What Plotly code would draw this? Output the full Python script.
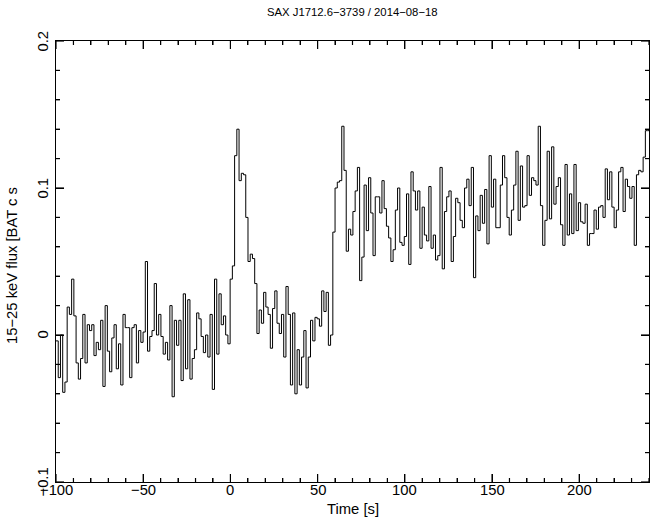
import plotly.graph_objects as go

# ---- data: Swift/BAT 15-25 keV light curve, 1.28 s bins starting at t = -100 s ----
bin_start = -100.0
bin_width = 1.28

flux_m100_m50 = [-0.004, -0.029, 0.000, -0.039, -0.032, 0.019, 0.014, 0.038, 0.013, -0.019,
                 -0.030, -0.016, 0.014, -0.019, 0.007, 0.003, 0.007, -0.014, -0.005, -0.010,
                 0.010, -0.035, 0.020, -0.011, -0.025, -0.002, 0.007, -0.023, -0.006, -0.034,
                 0.014, 0.005, 0.005, -0.029, 0.005, 0.007, -0.019, 0.003, -0.005]
flux_m50_0 = [0.002, 0.050, -0.011, -0.001, 0.003, 0.035, 0.000, 0.014, -0.001, -0.013,
              -0.005, -0.017, 0.020, -0.042, 0.010, -0.007, 0.010, -0.031, 0.028, -0.023,
              0.024, -0.030, -0.016, -0.010, 0.015, 0.011, -0.001, -0.012, 0.000, -0.015,
              0.014, -0.037, 0.038, -0.013, 0.028, 0.007, 0.013, 0.000, -0.006]
flux_0_50 = [0.038, 0.047, 0.122, 0.140, 0.105, 0.110, 0.109, 0.080, 0.050, 0.055,
             0.052, 0.035, 0.001, 0.017, 0.008, 0.029, 0.019, 0.014, -0.009, 0.018,
             0.030, 0.008, 0.001, 0.014, -0.015, 0.033, 0.014, -0.034, 0.015, -0.040,
             -0.010, -0.034, -0.015, 0.003, -0.036, -0.015, 0.010, -0.004, 0.012]
flux_50_100 = [0.011, 0.006, 0.030, 0.016, 0.029, -0.007, 0.000, 0.070, 0.100, 0.104,
               0.105, 0.142, 0.112, 0.057, 0.072, 0.068, 0.084, 0.098, 0.114, 0.037,
               0.053, 0.102, 0.071, 0.107, 0.083, 0.054, 0.094, 0.094, 0.083, 0.105,
               0.086, 0.074, 0.066, 0.050, 0.058, 0.085, 0.100, 0.063, 0.061]
flux_100_150 = [0.067, 0.096, 0.048, 0.111, 0.098, 0.085, 0.098, 0.059, 0.087, 0.068,
                0.064, 0.101, 0.059, 0.068, 0.051, 0.054, 0.114, 0.045, 0.084, 0.094,
                0.098, 0.050, 0.067, 0.093, 0.090, 0.078, 0.073, 0.100, 0.106, 0.088,
                0.114, 0.039, 0.081, 0.071, 0.095, 0.076, 0.099, 0.062, 0.122]
flux_150_200 = [0.087, 0.106, 0.073, 0.073, 0.102, 0.122, 0.107, 0.080, 0.068, 0.085,
                0.102, 0.125, 0.078, 0.115, 0.087, 0.088, 0.122, 0.095, 0.107, 0.105,
                0.102, 0.142, 0.088, 0.061, 0.078, 0.125, 0.079, 0.128, 0.089, 0.101,
                0.107, 0.075, 0.061, 0.116, 0.068, 0.096, 0.069, 0.116, 0.071]
flux_200_240 = [0.090, 0.077, 0.076, 0.089, 0.061, 0.069, 0.069, 0.085, 0.072, 0.087,
                0.088, 0.080, 0.113, 0.092, 0.111, 0.087, 0.073, 0.085, 0.111, 0.114,
                0.084, 0.106, 0.101, 0.093, 0.101, 0.061, 0.109, 0.112, 0.111, 0.121,
                0.139, 0.139]

x_ticks = [-100, -50, 0, 50, 100, 150, 200]
x_tick_labels = ["\u2212100", "\u221250", "0", "50", "100", "150", "200"]
y_ticks = [-0.1, 0, 0.1, 0.2]
y_tick_labels = ["\u22120.1", "0", "0.1", "0.2"]
x_minor_step = 10
y_minor_step = 0.02
x_range = [-100, 240]
y_range = [-0.1, 0.2]

title_text = "SAX J1712.6\u22123739 / 2014\u221208\u221218"
x_title = "Time [s]"
y_title = "15\u221225 keV flux [BAT c s"

# ---- build step curve ----
flux = (flux_m100_m50 + flux_m50_0 + flux_0_50 + flux_50_100 +
        flux_100_150 + flux_150_200 + flux_200_240)
edges = [bin_start + i * bin_width for i in range(len(flux) + 1)]
ys = flux + [flux[-1]]

font = "Liberation Sans, Arial, Helvetica, sans-serif"
W, H = 650, 526
L, R, T, B = 56, 1, 41, 44
pw, ph = W - L - R, H - T - B
maj_len, min_len = 8, 4
px_per_x = pw / (x_range[1] - x_range[0])
px_per_y = ph / (y_range[1] - y_range[0])
lab_size = 14.8


def frange(a, b, step):
    n = int(round((b - a) / step))
    return [a + k * step for k in range(n + 1)]


x_minor = [v for v in frange(x_range[0], x_range[1], x_minor_step)
           if all(abs(v - m) > 1e-9 for m in x_ticks)]
y_minor = [v for v in frange(y_range[0], y_range[1], y_minor_step)
           if all(abs(v - m) > 1e-9 for m in y_ticks)]

# inside tick marks on all four sides, drawn in data coordinates
tx, ty = [], []
for vals, ln in ((x_ticks, maj_len), (x_minor, min_len)):
    d = ln / px_per_y
    for v in vals:
        tx += [v, v, None, v, v, None]
        ty += [y_range[0], y_range[0] + d, None, y_range[1], y_range[1] - d, None]
for vals, ln in ((y_ticks, maj_len), (y_minor, min_len)):
    d = ln / px_per_x
    for v in vals:
        tx += [x_range[0], x_range[0] + d, None, x_range[1], x_range[1] - d, None]
        ty += [v, v, None, v, v, None]

fig = go.Figure()
fig.add_trace(go.Scatter(x=edges, y=ys, mode="lines", line_shape="hv",
                         line=dict(color="black", width=1), hoverinfo="skip"))
fig.add_trace(go.Scatter(x=tx, y=ty, mode="lines", connectgaps=False,
                         line=dict(color="black", width=1.2, simplify=False), hoverinfo="skip"))

annotations = [
    dict(text=title_text, xref="paper", yref="paper",
         x=0.5, y=1 + (T - 12) / ph, xanchor="center", yanchor="middle",
         showarrow=False, font=dict(size=11.3)),
    dict(text=x_title, xref="paper", yref="paper",
         x=0.5, y=-(508.5 - (H - B)) / ph, xanchor="center", yanchor="middle",
         showarrow=False, font=dict(size=lab_size)),
    dict(text=y_title, xref="paper", yref="paper",
         x=-(L - 12) / pw, y=(H - B - 266) / ph, xanchor="center", yanchor="middle",
         textangle=-90, showarrow=False, font=dict(size=lab_size)),
]
# tick labels placed through the axis scales
for v, s in zip(x_ticks, x_tick_labels):
    annotations.append(dict(text=s, xref="x", yref="paper", x=v, y=-(490 - (H - B)) / ph,
                            xanchor="center", yanchor="middle", showarrow=False,
                            font=dict(size=lab_size)))
for v, s in zip(y_ticks, y_tick_labels):
    annotations.append(dict(text=s, xref="paper", yref="y", x=-(L - 42.5) / pw, y=v,
                            xanchor="center", yanchor="middle", textangle=-90,
                            showarrow=False, font=dict(size=lab_size)))

fig.update_layout(
    template="none",
    width=W, height=H,
    margin=dict(l=L, r=R, t=T, b=B, autoexpand=False),
    paper_bgcolor="white", plot_bgcolor="white",
    showlegend=False,
    font=dict(family=font, size=lab_size, color="black"),
    annotations=annotations,
)
fig.update_xaxes(range=x_range, showgrid=False, zeroline=False, automargin=False,
                 showline=True, linecolor="black", linewidth=1, mirror="allticks",
                 ticks="inside", ticklen=maj_len, tickwidth=1, tickcolor="black",
                 tickmode="array", tickvals=x_ticks, showticklabels=False,
                 minor=dict(ticks="inside", ticklen=min_len, tickmode="array", tickvals=x_minor,
                            tickcolor="black", tickwidth=1, showgrid=False))
fig.update_yaxes(range=y_range, showgrid=False, zeroline=False, automargin=False,
                 showline=True, linecolor="black", linewidth=1, mirror="allticks",
                 ticks="inside", ticklen=maj_len, tickwidth=1, tickcolor="black",
                 tickmode="array", tickvals=y_ticks, showticklabels=False,
                 minor=dict(ticks="inside", ticklen=min_len, tickmode="array", tickvals=y_minor,
                            tickcolor="black", tickwidth=1, showgrid=False))

fig.write_html("out.html", config={"displayModeBar": False},
               post_script="document.body.style.margin='0px';document.body.style.padding='0px';")
